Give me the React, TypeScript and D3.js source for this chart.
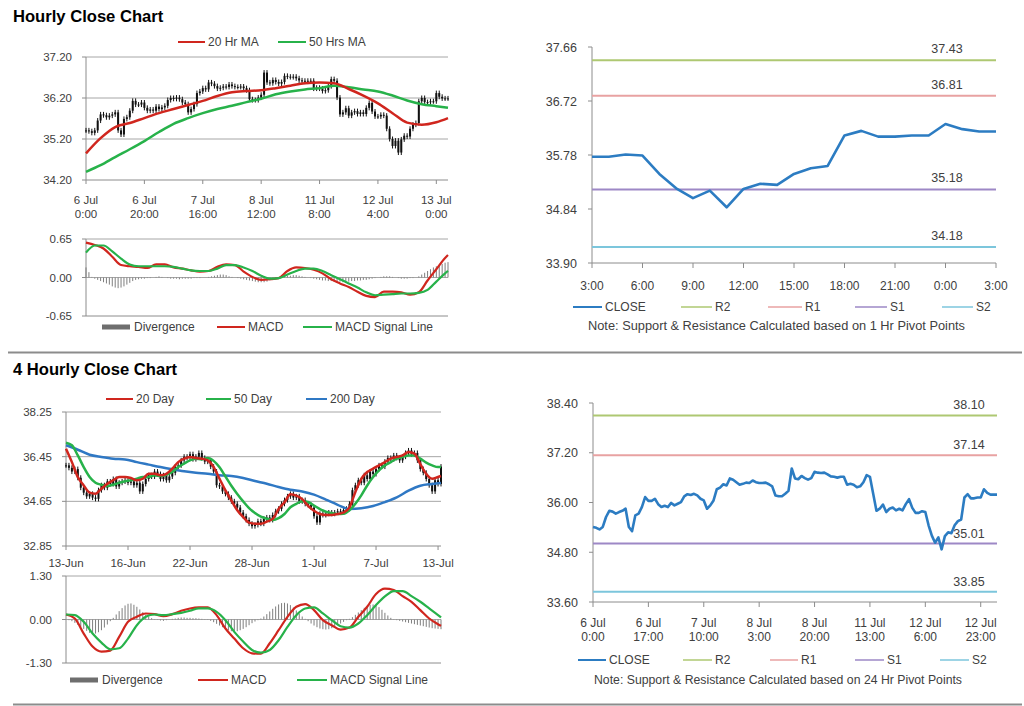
import React from "react";
import * as d3 from "d3";

const FONT = "'Liberation Sans', Arial, sans-serif";
const TXT = "#404040";
const GRID = "#a6a6a6";
const AXIS = "#8c8c8c";
const RED = "#d0261e";
const GREEN = "#27b24a";
const BLUE = "#2f78c4";
const CLOSE_BLUE = "#2c7cc2";
const DIV = "#7f7f7f";

// ---------- Hourly (6 Jul 0:00 .. 13 Jul 4:00), 125 bars ----------
const hourlyClose = [
  35.41, 35.39, 35.35, 35.41, 35.65, 35.8, 35.78, 35.73, 35.77, 35.8, 35.85, 35.41,
  35.31, 35.69, 35.73, 35.89, 36.13, 36.04, 36.04, 36.09, 35.96, 35.89, 35.92, 35.89, 35.99, 35.93,
  35.97, 36.01, 36.15, 36.2, 36.18, 36.21, 36.17, 36.09, 36.05, 35.85, 35.93, 36.05,
  36.32, 36.36, 36.44, 36.41, 36.58, 36.55, 36.49, 36.43, 36.45, 36.48,
  36.47, 36.53, 36.49, 36.47, 36.47, 36.48, 36.44, 36.39, 36.17, 36.15,
  36.15, 36.21, 36.28, 36.82, 36.58, 36.56, 36.64, 36.59, 36.55, 36.59,
  36.74, 36.72, 36.71, 36.72, 36.68, 36.63, 36.62, 36.6, 36.62, 36.62,
  36.43, 36.45, 36.43, 36.37, 36.39, 36.49, 36.66, 36.62, 36.21, 35.8,
  35.85, 35.95, 35.77, 35.85, 35.88, 35.81, 35.85, 35.81, 35.96, 36.08,
  35.87,
  35.75, 35.75, 35.79, 35.77, 35.45, 35.2, 35.03, 35.16, 34.87, 35.19,
  35.28, 35.26, 35.45, 35.55, 35.59, 36.12, 36.2, 36.1, 36.1, 36.12,
  36.12, 36.32, 36.23, 36.19, 36.19, 36.19,
];
const maIdx = [0, 5, 10, 15, 20, 25, 30, 35, 40, 45, 50, 55, 60, 65, 70, 75, 80, 85, 90, 95, 100, 105, 110, 115, 120, 124];
const ma20Hr = [34.85, 35.22, 35.49, 35.59, 35.71, 35.83, 35.93, 36.03, 36.13, 36.25, 36.34, 36.37, 36.39, 36.44, 36.5, 36.56, 36.58, 36.56, 36.42, 36.26, 36.07, 35.83, 35.6, 35.55, 35.61, 35.71];
const ma50Hr = [34.4, 34.56, 34.76, 34.95, 35.15, 35.37, 35.57, 35.71, 35.83, 35.93, 36.01, 36.1, 36.18, 36.29, 36.36, 36.41, 36.44, 36.5, 36.46, 36.41, 36.36, 36.26, 36.14, 36.05, 36.0, 35.96];
const hourlyTickIdx = [0, 20, 40, 60, 80, 100, 120];
const hourlyTickLabels = [["6 Jul", "0:00"], ["6 Jul", "20:00"], ["7 Jul", "16:00"], ["8 Jul", "12:00"], ["11 Jul", "8:00"], ["12 Jul", "4:00"], ["13 Jul", "0:00"]];
const hourlyYTicks = [34.2, 35.2, 36.2, 37.2];

const macd1Idx = [0, 3, 6, 9, 12, 15, 18, 21, 24, 27, 30, 33, 36, 39, 42, 45, 48, 51, 54, 57, 60, 63, 66, 69, 72, 75, 78, 81, 84, 87, 90, 93, 96, 99, 102, 105, 108, 111, 114, 117, 120, 123, 124];
const macd1 = [0.59, 0.55, 0.49, 0.35, 0.21, 0.19, 0.18, 0.16, 0.22, 0.22, 0.17, 0.15, 0.12, 0.1, 0.11, 0.18, 0.22, 0.21, 0.1, 0.01, -0.04, -0.03, -0.01, 0.11, 0.17, 0.16, 0.13, 0.07, -0.03, -0.1, -0.16, -0.24, -0.31, -0.33, -0.24, -0.24, -0.25, -0.29, -0.25, -0.05, 0.14, 0.33, 0.38];
const signal1 = [0.42, 0.54, 0.54, 0.44, 0.32, 0.22, 0.19, 0.19, 0.19, 0.19, 0.18, 0.15, 0.12, 0.11, 0.11, 0.15, 0.21, 0.21, 0.17, 0.11, 0.03, -0.02, -0.01, 0.05, 0.11, 0.15, 0.15, 0.11, 0.04, -0.03, -0.1, -0.17, -0.25, -0.3, -0.29, -0.28, -0.27, -0.27, -0.26, -0.21, -0.07, 0.07, 0.11];
const divergence1 = [
  0.17, 0.09, 0.01, -0.02, -0.04, -0.06, -0.08, -0.1, -0.12, -0.15,
  -0.17, -0.18, -0.17, -0.15, -0.12, -0.09, -0.06, -0.04, -0.03, -0.02,
  -0.02, -0.01, -0.01, 0.0, 0.01, 0.02, 0.01, 0.0, -0.01, -0.02,
  -0.02, -0.02, -0.03, -0.02, -0.02, -0.02, -0.02, -0.01, -0.01, -0.01,
  0.0, 0.0, 0.01, 0.02, 0.03, 0.04, 0.05, 0.05, 0.04, 0.02,
  0.01, 0.0, -0.01, -0.02, -0.03, -0.04, -0.05, -0.06, -0.07, -0.08,
  -0.08, -0.08, -0.07, -0.05, -0.03, -0.02, 0.0, 0.01, 0.02, 0.03,
  0.03, 0.04, 0.04, 0.03, 0.02, 0.01, 0.0, -0.01, -0.02, -0.03,
  -0.04, -0.05, -0.05, -0.06, -0.06, -0.07, -0.07, -0.07, -0.08, -0.07,
  -0.07, -0.06, -0.06, -0.05, -0.05, -0.04, -0.04, -0.03, -0.02, -0.01,
  0.0, 0.01, 0.02, 0.02, 0.02, 0.01, 0.0, -0.01, -0.02, -0.02,
  -0.02, -0.01, -0.01, 0.0, 0.02, 0.05, 0.08, 0.11, 0.14, 0.17,
  0.19, 0.21, 0.23, 0.25, 0.26,
];

// ---------- 1 Hr pivot panel (12 Jul 3:00 .. 13 Jul 3:00) ----------
const pivot1Start = 99;
const pivot1TickLabels = ["3:00", "6:00", "9:00", "12:00", "15:00", "18:00", "21:00", "0:00", "3:00"];
const pivot1TickIdx = [0, 3, 6, 9, 12, 15, 18, 21, 24];
const pivot1YTicks = [33.9, 34.84, 35.78, 36.72, 37.66];
const pivot1Levels = [37.43, 36.81, 35.18, 34.18]; // R2, R1, S1, S2

// ---------- 24 Hr pivot panel ----------
const pivot2TickIdx = [0, 17, 34, 51, 68, 85, 102, 119];
const pivot2TickLabels = [["6 Jul", "0:00"], ["6 Jul", "17:00"], ["7 Jul", "10:00"], ["8 Jul", "3:00"], ["8 Jul", "20:00"], ["11 Jul", "13:00"], ["12 Jul", "6:00"], ["12 Jul", "23:00"]];
const pivot2YTicks = [33.6, 34.8, 36.0, 37.2, 38.4];
const pivot2Levels = [38.1, 37.14, 35.01, 33.85];

const levelNames = ["R2", "R1", "S1", "S2"];
const levelColors = ["#aec872", "#e8a2a2", "#9d88c6", "#7cc6dc"];

// ---------- 4 Hourly (13 Jun .. 13 Jul), 128 bars ----------
const fourClose = [
  36.1, 36.0, 35.85, 35.95, 35.6, 35.2, 35.0, 34.85, 34.95, 34.8,
  34.75, 35.1, 35.3, 35.2, 35.45, 35.35, 35.55, 35.25, 35.4, 35.45,
  35.5, 35.4, 35.45, 35.3, 35.4, 35.05, 35.35, 35.55, 35.7, 35.65,
  35.85, 35.75, 35.55, 35.7, 35.5, 35.65, 35.8, 36.05, 36.1, 36.3,
  36.45, 36.4, 36.55, 36.35, 36.45, 36.6, 36.4, 36.25, 36.3, 36.05,
  35.85, 35.3, 35.25, 35.05, 34.95, 34.8, 34.65, 34.55, 34.4, 34.2,
  34.05, 33.9, 33.75, 33.65, 33.7, 33.85, 33.75, 33.95, 34.0, 33.9,
  34.1, 34.25, 34.35, 34.55, 34.7, 34.85, 34.95, 34.8, 34.85, 34.65,
  34.7, 34.55, 34.5, 34.4, 34.05, 33.8, 34.15, 34.1, 34.15, 34.2,
  34.15, 34.2, 34.25, 34.2, 34.3, 34.35, 34.55, 35.1, 35.3, 35.5,
  35.4, 35.7, 35.55, 35.85, 35.75, 35.95, 36.1, 36.05, 36.25, 36.4,
  36.35, 36.5, 36.4, 36.3, 36.45, 36.6, 36.7, 36.55, 36.6, 36.3,
  35.95, 35.8, 35.55, 35.3, 35.05, 35.5, 35.35, 36.05,
];
const fourMaIdx = [0, 2, 4, 6, 8, 10, 12, 14, 16, 18, 20, 22, 24, 26, 28, 30, 32, 34, 36, 38, 40, 42, 44, 46, 48, 50, 52, 54, 56, 58, 60, 62, 64, 66, 68, 70, 72, 74, 76, 78, 80, 82, 84, 86, 88, 90, 92, 94, 96, 98, 100, 102, 104, 106, 108, 110, 112, 114, 116, 118, 120, 122, 124, 126, 127];
const ma20Day = [36.77, 36.23, 35.63, 35.29, 35.0, 34.96, 35.16, 35.36, 35.5, 35.63, 35.63, 35.59, 35.5, 35.56, 35.76, 35.76, 35.7, 35.76, 35.97, 36.23, 36.37, 36.44, 36.4, 36.37, 36.3, 36.03, 35.56, 35.09, 34.69, 34.29, 34.02, 33.79, 33.75, 33.75, 33.83, 33.94, 34.34, 34.61, 34.94, 34.88, 34.74, 34.47, 34.27, 34.14, 34.1, 34.1, 34.14, 34.2, 34.41, 35.03, 35.55, 35.83, 35.97, 36.1, 36.23, 36.37, 36.44, 36.5, 36.64, 36.57, 36.15, 35.75, 35.56, 35.63, 35.67];
const ma50Day = [37.01, 36.91, 36.5, 36.03, 35.63, 35.4, 35.32, 35.27, 35.32, 35.4, 35.46, 35.5, 35.56, 35.63, 35.63, 35.7, 35.67, 35.72, 35.83, 36.03, 36.17, 36.3, 36.37, 36.34, 36.4, 36.28, 36.02, 35.65, 35.28, 34.95, 34.65, 34.38, 34.18, 34.03, 33.95, 33.9, 33.97, 34.14, 34.41, 34.55, 34.65, 34.62, 34.48, 34.34, 34.23, 34.18, 34.14, 34.15, 34.29, 34.55, 34.89, 35.29, 35.63, 35.9, 36.1, 36.23, 36.37, 36.44, 36.5, 36.5, 36.37, 36.21, 36.1, 36.03, 36.03];
const ma200Idx = [0, 4, 8, 12, 16, 20, 24, 28, 32, 36, 40, 44, 48, 52, 56, 60, 64, 68, 72, 76, 80, 84, 88, 92, 96, 100, 104, 108, 112, 116, 120, 124, 127];
const ma200Day = [36.91, 36.73, 36.53, 36.44, 36.37, 36.34, 36.23, 36.13, 36.03, 35.94, 35.86, 35.8, 35.76, 35.7, 35.67, 35.59, 35.47, 35.36, 35.23, 35.12, 35.05, 34.92, 34.72, 34.51, 34.34, 34.37, 34.46, 34.62, 34.81, 35.08, 35.28, 35.35, 35.39];
const fourTickIdx = [0, 21, 42, 63, 84, 105, 126];
const fourTickLabels = ["13-Jun", "16-Jun", "22-Jun", "28-Jun", "1-Jul", "7-Jul", "13-Jul"];
const fourYTicks = [32.85, 34.65, 36.45, 38.25];

const macd2Idx = [0, 3, 6, 9, 12, 15, 18, 21, 24, 27, 30, 33, 36, 39, 42, 45, 48, 51, 54, 57, 60, 63, 66, 69, 72, 75, 78, 81, 84, 87, 90, 93, 96, 99, 102, 105, 108, 111, 114, 117, 120, 123, 126, 127];
const macd2 = [0.15, 0.03, -0.42, -0.81, -0.96, -0.93, -0.52, -0.07, 0.08, 0.18, 0.16, 0.1, 0.16, 0.26, 0.33, 0.36, 0.36, 0.13, -0.27, -0.57, -0.86, -1.01, -1.02, -0.71, -0.32, 0.08, 0.38, 0.46, 0.28, -0.02, -0.17, -0.3, -0.24, 0.08, 0.38, 0.76, 0.92, 0.88, 0.7, 0.53, 0.28, 0.03, -0.14, -0.19];
const signal2 = [0.15, 0.13, -0.07, -0.42, -0.69, -0.89, -0.86, -0.57, -0.17, 0.08, 0.15, 0.13, 0.16, 0.2, 0.26, 0.33, 0.33, 0.23, -0.02, -0.37, -0.66, -0.91, -0.99, -0.91, -0.62, -0.22, 0.13, 0.33, 0.36, 0.18, -0.02, -0.2, -0.24, -0.12, 0.13, 0.43, 0.69, 0.85, 0.85, 0.7, 0.53, 0.33, 0.13, 0.06];
const divergence2 = [
  0.0, -0.02, -0.05, -0.1, -0.16, -0.22, -0.28, -0.34, -0.4, -0.44,
  -0.42, -0.38, -0.32, -0.24, -0.15, -0.05, 0.05, 0.15, 0.25, 0.34,
  0.42, 0.47, 0.48, 0.44, 0.38, 0.3, 0.22, 0.14, 0.08, 0.04,
  0.01, -0.01, -0.03, -0.04, -0.02, 0.0, 0.02, 0.03, 0.05, 0.06,
  0.06, 0.05, 0.05, 0.04, 0.04, 0.03, 0.02, 0.01, -0.01, -0.04,
  -0.08, -0.13, -0.18, -0.23, -0.28, -0.32, -0.35, -0.36, -0.35, -0.32,
  -0.28, -0.23, -0.17, -0.11, -0.06, -0.02, 0.03, 0.09, 0.16, 0.24,
  0.32, 0.39, 0.45, 0.49, 0.5, 0.48, 0.43, 0.36, 0.27, 0.18,
  0.09, 0.02, -0.05, -0.12, -0.18, -0.23, -0.27, -0.29, -0.3, -0.29,
  -0.26, -0.22, -0.17, -0.12, -0.07, -0.02, 0.02, 0.07, 0.14, 0.21,
  0.28, 0.35, 0.4, 0.44, 0.45, 0.43, 0.37, 0.29, 0.2, 0.12,
  0.05, 0.01, -0.02, -0.04, -0.06, -0.08, -0.1, -0.12, -0.14, -0.16,
  -0.18, -0.2, -0.22, -0.24, -0.26, -0.27, -0.28, -0.29,
];

type Pt = [number, number];
const zip = (a: number[], b: number[]): Pt[] => a.map((v, i) => [v, b[i]] as Pt);

function XLabel({ x, y, lines, size }: { x: number; y: number; lines: string[]; size: number }) {
  return (
    <text x={x} y={y} textAnchor="middle" fontSize={size} fill={TXT}>
      {lines.map((l, k) => (
        <tspan key={k} x={x} dy={k === 0 ? 0 : 14}>{l}</tspan>
      ))}
    </text>
  );
}

function CandlePanel(p: any) {
  const x = d3.scaleLinear().domain([0, p.closes.length - 1]).range([p.left, p.right]);
  const y = d3.scaleLinear().domain([p.yTicks[0], p.yTicks[p.yTicks.length - 1]]).range([p.bottom, p.top]);
  const line = d3.line<Pt>().x((d) => x(d[0])).y((d) => y(d[1])).curve(d3.curveMonotoneX);
  return (
    <g>
      {p.yTicks.map((t: number, k: number) => (
        <line key={"g" + k} x1={p.left} x2={p.right} y1={y(t)} y2={y(t)} stroke={k === 0 ? AXIS : GRID} strokeWidth={1} />
      ))}
      <line x1={p.left} x2={p.left} y1={p.top} y2={p.bottom} stroke={AXIS} />
      {p.yTicks.map((t: number, k: number) => (
        <g key={"yt" + k}>
          <line x1={p.left - 4} x2={p.left} y1={y(t)} y2={y(t)} stroke={AXIS} />
          <text x={p.left - 14} y={y(t) + 4} textAnchor="end" fontSize={11.5} fill={TXT}>{t.toFixed(2)}</text>
        </g>
      ))}
      {p.tickIdx.map((t: number, k: number) => (
        <g key={"xt" + k}>
          <line x1={x(t)} x2={x(t)} y1={p.bottom} y2={p.bottom + 4} stroke={AXIS} />
          <XLabel x={x(t)} y={p.labelY} size={11.5} lines={Array.isArray(p.tickLabels[k]) ? p.tickLabels[k] : [p.tickLabels[k]]} />
        </g>
      ))}
      {p.closes.map((c: number, i: number) => {
        const o = i > 0 ? p.closes[i - 1] : c;
        const top = y(Math.max(o, c));
        const bot = y(Math.min(o, c));
        return (
          <g key={"c" + i}>
            <line x1={x(i)} x2={x(i)} y1={top - 2.5} y2={bot + 2.5} stroke="#111" strokeWidth={1} />
            <rect x={x(i) - 1} y={top} width={2} height={Math.max(1, bot - top)} fill="#111" />
          </g>
        );
      })}
      {p.lines.map((l: any, k: number) => (
        <path key={"l" + k} d={line(zip(l.idx, l.vals)) || ""} fill="none" stroke={l.color} strokeWidth={2.5} />
      ))}
    </g>
  );
}

function MacdPanel(p: any) {
  const x = d3.scaleLinear().domain([0, p.n - 1]).range([p.left, p.right]);
  const y = d3.scaleLinear().domain([-p.yMax, p.yMax]).range([p.bottom, p.top]);
  const line = d3.line<Pt>().x((d) => x(d[0])).y((d) => y(d[1])).curve(d3.curveMonotoneX);
  const ticks = [-p.yMax, 0, p.yMax];
  return (
    <g>
      {ticks.map((t, k) => (
        <line key={"g" + k} x1={p.left} x2={p.right} y1={y(t)} y2={y(t)} stroke={k === 0 ? AXIS : GRID} />
      ))}
      <line x1={p.left} x2={p.left} y1={p.top} y2={p.bottom} stroke={AXIS} />
      {ticks.map((t, k) => (
        <g key={"yt" + k}>
          <line x1={p.left - 4} x2={p.left} y1={y(t)} y2={y(t)} stroke={AXIS} />
          <text x={p.left - 14} y={y(t) + 4} textAnchor="end" fontSize={11.5} fill={TXT}>{t.toFixed(2)}</text>
        </g>
      ))}
      {p.div.map((v: number, i: number) => (
        <rect key={"d" + i} x={x(i) - 0.5} width={1} y={Math.min(y(0), y(v))} height={Math.abs(y(v) - y(0))} fill={DIV} />
      ))}
      <path d={line(zip(p.idx, p.macd)) || ""} fill="none" stroke={RED} strokeWidth={2.2} />
      <path d={line(zip(p.idx, p.signal)) || ""} fill="none" stroke={GREEN} strokeWidth={2.2} />
    </g>
  );
}

function PivotPanel(p: any) {
  const x = d3.scaleLinear().domain([0, p.closes.length - 1]).range([p.left, p.right]);
  const y = d3.scaleLinear().domain([p.yTicks[0], p.yTicks[p.yTicks.length - 1]]).range([p.bottom, p.top]);
  const line = d3.line<number>().x((_, i) => x(i)).y((d) => y(d));
  return (
    <g>
      <line x1={p.left} x2={p.left} y1={p.top} y2={p.bottom} stroke={AXIS} />
      <line x1={p.left} x2={p.right} y1={p.bottom} y2={p.bottom} stroke={AXIS} />
      {p.yTicks.map((t: number, k: number) => (
        <g key={"yt" + k}>
          <line x1={p.left - 4} x2={p.left} y1={y(t)} y2={y(t)} stroke={AXIS} />
          <text x={p.left - 15} y={y(t) + 4.5} textAnchor="end" fontSize={12.5} fill={TXT}>{t.toFixed(2)}</text>
        </g>
      ))}
      {p.tickIdx.map((t: number, k: number) => (
        <g key={"xt" + k}>
          <line x1={x(t)} x2={x(t)} y1={p.bottom} y2={p.bottom + 5} stroke={AXIS} />
          <XLabel x={x(t)} y={p.labelY} size={12} lines={Array.isArray(p.tickLabels[k]) ? p.tickLabels[k] : [p.tickLabels[k]]} />
        </g>
      ))}
      {p.levels.map((v: number, k: number) => (
        <g key={"lv" + k}>
          <line x1={p.left} x2={p.right} y1={y(v)} y2={y(v)} stroke={levelColors[k]} strokeWidth={2} />
          <text x={p.levelLabelX} y={y(v) - p.labelGap} textAnchor="middle" fontSize={12.5} fill={TXT}>{v.toFixed(2)}</text>
        </g>
      ))}
      <path d={line(p.closes) || ""} fill="none" stroke={CLOSE_BLUE} strokeWidth={2.6} strokeLinejoin="round" />
    </g>
  );
}

function LegendLine({ x1, x2, y, color, label, w = 2 }: any) {
  return (
    <g>
      <line x1={x1} x2={x2} y1={y} y2={y} stroke={color} strokeWidth={w} />
      <text x={x2 + 3} y={y + 4} fontSize={12} fill={TXT}>{label}</text>
    </g>
  );
}

function LegendBar({ x1, x2, y, label }: any) {
  return (
    <g>
      <rect x={x1} y={y - 2.5} width={x2 - x1} height={5} fill="#6e6e6e" />
      <text x={x2 + 4} y={y + 4} fontSize={12} fill={TXT}>{label}</text>
    </g>
  );
}

function PivotLegend({ y, noteY, xs, note, noteX0, noteX1 }: any) {
  return (
    <g>
      <LegendLine x1={xs[0][0]} x2={xs[0][1]} y={y} color={CLOSE_BLUE} label="CLOSE" />
      {levelNames.map((n, k) => (
        <LegendLine key={n} x1={xs[k + 1][0]} x2={xs[k + 1][1]} y={y} color={levelColors[k]} label={n} w={1.5} />
      ))}
      <text x={noteX0} y={noteY} fontSize={12} fill={TXT} textLength={noteX1 - noteX0} lengthAdjust="spacingAndGlyphs">{note}</text>
    </g>
  );
}

export default function App() {
  const pivot1Close = hourlyClose.slice(pivot1Start, pivot1Start + 25);
  return (
    <svg width={1024} height={706} style={{ position: "absolute", left: 0, top: 0, background: "#fff" }} fontFamily={FONT}>
      <rect width={1024} height={706} fill="#fff" />

      {/* ---------------- Hourly section ---------------- */}
      <text x={13} y={22} fontSize={16.6} fontWeight="bold" fill="#000">Hourly Close Chart</text>
      <LegendLine x1={178} x2={205} y={42} color={RED} label="20 Hr MA" />
      <LegendLine x1={278} x2={306} y={42} color={GREEN} label="50 Hrs MA" />
      <CandlePanel
        left={86} right={448} top={57} bottom={180}
        yTicks={hourlyYTicks} closes={hourlyClose}
        tickIdx={hourlyTickIdx} tickLabels={hourlyTickLabels} labelY={204}
        lines={[{ idx: maIdx, vals: ma50Hr, color: GREEN }, { idx: maIdx, vals: ma20Hr, color: RED }]}
      />
      <MacdPanel left={86} right={448} top={239} bottom={316} yMax={0.65} n={hourlyClose.length}
        div={divergence1} idx={macd1Idx} macd={macd1} signal={signal1} />
      <LegendBar x1={102} x2={130} y={327} label="Divergence" />
      <LegendLine x1={217} x2={245} y={327} color={RED} label="MACD" />
      <LegendLine x1={303} x2={332} y={327} color={GREEN} label="MACD  Signal Line" />

      <PivotPanel left={592} right={996} top={47} bottom={263}
        yTicks={pivot1YTicks} closes={pivot1Close}
        tickIdx={pivot1TickIdx} tickLabels={pivot1TickLabels} labelY={290}
        levels={pivot1Levels} levelLabelX={947} labelGap={7} />
      <PivotLegend y={307} noteY={330} noteX0={588} noteX1={965}
        xs={[[573, 602], [681, 712], [768, 802], [855, 887], [942, 973]]}
        note="Note: Support & Resistance Calculated based on 1 Hr Pivot Points" />

      <line x1={8} x2={1022} y1={352.5} y2={352.5} stroke="#8c8c8c" strokeWidth={2} />

      {/* ---------------- 4 Hourly section ---------------- */}
      <text x={13} y={375} fontSize={16.6} fontWeight="bold" fill="#000">4 Hourly Close Chart</text>
      <LegendLine x1={106} x2={133} y={399} color={RED} label="20 Day" />
      <LegendLine x1={206} x2={231} y={399} color={GREEN} label="50 Day" />
      <LegendLine x1={306} x2={327} y={399} color={BLUE} label="200 Day" />
      <CandlePanel
        left={66} right={441} top={412} bottom={546}
        yTicks={fourYTicks} closes={fourClose}
        tickIdx={fourTickIdx} tickLabels={fourTickLabels} labelY={567}
        lines={[
          { idx: ma200Idx, vals: ma200Day, color: BLUE },
          { idx: fourMaIdx, vals: ma50Day, color: GREEN },
          { idx: fourMaIdx, vals: ma20Day, color: RED },
        ]}
      />
      <MacdPanel left={66} right={441} top={576} bottom={663} yMax={1.3} n={fourClose.length}
        div={divergence2} idx={macd2Idx} macd={macd2} signal={signal2} />
      <LegendBar x1={70} x2={98} y={680} label="Divergence" />
      <LegendLine x1={198} x2={228} y={680} color={RED} label="MACD" />
      <LegendLine x1={297} x2={327} y={680} color={GREEN} label="MACD  Signal Line" />

      <PivotPanel left={593} right={997} top={403} bottom={602}
        yTicks={pivot2YTicks} closes={hourlyClose}
        tickIdx={pivot2TickIdx} tickLabels={pivot2TickLabels} labelY={627}
        levels={pivot2Levels} levelLabelX={969} labelGap={6} />
      <PivotLegend y={660} noteY={684} noteX0={594} noteX1={962}
        xs={[[578, 606], [683, 712], [770, 798], [855, 884], [940, 969]]}
        note="Note: Support & Resistance Calculated based on 24 Hr Pivot Points" />

      <line x1={13} x2={1022} y1={704.5} y2={704.5} stroke="#8c8c8c" strokeWidth={2} />
    </svg>
  );
}
